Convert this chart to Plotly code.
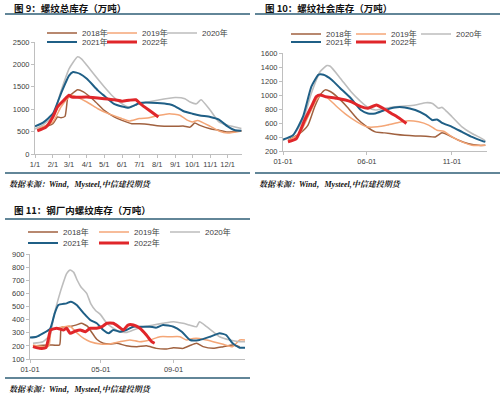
import plotly.graph_objects as go

YEAR = "2022-"

# ---------------- Figure 9: total rebar inventory ----------------
c9_dates_2018 = ["01-05","02-01","02-09","02-15","02-22","02-27","03-03","03-16","03-26","04-13","05-01","05-19","06-01","06-18","07-01","07-18","08-01","09-01","09-15","09-27","10-05","10-14","11-01","11-16","12-01","12-25"]
c9_vals_2018 = [540,675,825,810,840,1270,1310,1435,1385,1200,975,825,750,675,675,660,630,617,625,600,690,640,565,530,490,520]
c9_dates_2019 = ["01-05","02-01","02-15","03-01","03-06","04-01","04-20","05-08","06-01","06-13","07-01","07-18","08-05","08-22","09-09","09-23","10-01","10-10","11-01","11-16","12-01","12-25"]
c9_vals_2019 = [565,715,1050,1270,1310,1160,1010,900,790,735,790,810,865,900,865,750,715,750,617,515,470,515]
c9_dates_2020 = ["01-01","01-15","02-01","02-15","03-01","03-16","03-23","04-01","04-15","05-01","05-15","06-01","06-13","07-01","08-01","09-01","09-18","09-27","10-08","10-16","11-01","11-16","12-01","12-25"]
c9_vals_2020 = [560,650,850,1400,1900,2170,2120,1980,1750,1500,1300,1120,1050,1120,1200,1260,1235,1160,1120,1210,975,715,640,570]
c9_dates_2021 = ["01-01","01-15","02-01","02-15","03-01","03-08","03-20","04-01","04-20","05-01","05-18","06-01","06-12","06-25","07-01","08-01","08-22","09-01","09-15","10-01","10-14","11-01","11-16","12-01","12-14","12-25"]
c9_vals_2021 = [617,700,900,1350,1750,1830,1790,1680,1420,1300,1120,1060,1030,1100,1140,1140,1110,1065,960,900,860,825,765,617,530,520]
c9_dates_2022 = ["01-05","01-20","02-01","02-09","02-20","03-01","03-06","04-01","05-01","05-19","06-01","06-13","06-25","07-03","07-18","08-03"]
c9_vals_2022 = [515,600,825,1050,1200,1310,1270,1270,1235,1210,1180,1200,1210,1120,975,825]

# ---------------- Figure 10: social rebar inventory ----------------
c10_dates_2018 = ["01-10","01-31","02-15","02-27","03-09","03-18","03-27","04-08","04-26","05-14","06-01","06-16","07-03","07-21","08-08","08-27","09-15","10-02","10-14","10-26","11-13","12-01","12-19","12-31"]
c10_vals_2018 = [353,450,570,833,1000,1073,1050,977,833,665,545,473,459,440,425,416,411,401,459,425,353,305,281,281]
c10_dates_2019 = ["01-10","01-31","02-15","03-02","03-11","03-23","04-08","04-26","05-14","06-01","06-20","07-08","07-26","08-14","09-02","09-20","10-05","10-17","11-01","11-19","12-07","12-31"]
c10_vals_2019 = [344,450,690,929,1000,953,833,713,617,545,545,570,603,632,617,570,497,483,401,330,281,281]
c10_dates_2020 = ["01-01","01-19","02-06","02-21","03-09","03-21","03-27","04-14","05-03","05-21","06-01","06-16","07-03","07-21","08-08","08-27","09-15","09-27","10-08","10-14","10-20","11-01","11-19","12-07","12-25","12-31"]
c10_vals_2020 = [353,425,640,1025,1335,1420,1410,1240,1050,905,833,785,810,833,843,857,890,880,810,823,785,690,545,450,377,345]
c10_dates_2021 = ["01-01","01-19","02-06","02-21","03-06","03-15","03-30","04-14","05-03","05-21","06-03","06-16","07-03","07-21","08-08","08-27","09-15","09-27","10-05","10-14","11-01","11-19","12-07","12-25","12-31"]
c10_vals_2021 = [363,425,690,1120,1290,1290,1215,1097,953,785,737,737,785,823,823,785,713,641,651,603,545,473,401,345,330]
c10_dates_2022 = ["01-10","01-25","02-09","02-21","03-02","03-09","03-18","04-08","05-03","05-21","06-03","06-18","06-30","07-15","07-30","08-11"]
c10_vals_2022 = [330,377,641,833,977,1000,977,953,905,833,810,857,810,737,665,593]

# ---------------- Figure 11: in-plant rebar inventory ----------------
c11_dates_2018 = ["01-06","01-23","02-04","02-20","02-23","03-04","03-12","03-21","03-29","04-08","04-16","04-24","05-05","05-16","05-28","06-13","07-01","07-17","08-03","08-20","09-01","09-17","09-28","10-10","10-21","11-07","11-24","12-10","12-22"]
c11_vals_2018 = [200,205,207,207,340,346,350,360,372,350,300,250,220,214,220,201,194,201,181,176,186,181,201,220,194,181,194,207,194]
c11_dates_2019 = ["01-06","01-23","02-02","02-06","02-15","02-27","03-10","03-21","04-02","04-13","04-30","05-16","06-02","06-19","07-06","07-23","08-09","08-26","09-12","09-23","10-04","10-15","10-27","11-07","11-24","12-10","12-22","12-31"]
c11_vals_2019 = [207,194,200,320,334,345,350,300,257,232,215,215,232,245,232,245,270,270,270,245,257,257,245,232,212,194,245,245]
c11_dates_2020 = ["01-06","01-23","02-04","02-10","02-18","02-27","03-04","03-10","03-16","03-22","03-28","04-07","04-14","04-22","04-30","05-11","05-22","06-02","06-13","06-25","07-12","07-29","08-14","09-01","09-17","09-28","10-10","10-15","10-27","11-07","11-18","12-05","12-22","12-31"]
c11_vals_2020 = [220,232,283,420,560,690,750,778,760,700,651,600,520,470,440,372,334,308,303,321,346,359,372,384,372,359,346,384,346,308,270,245,232,232]
c11_dates_2021 = ["01-01","01-12","01-23","02-04","02-12","02-18","03-04","03-11","03-21","04-02","04-13","04-24","05-05","05-14","05-22","06-02","06-13","06-25","07-06","07-23","08-03","08-14","09-01","09-15","09-29","10-15","11-02","11-18","11-29","12-10","12-22","12-31"]
c11_vals_2021 = [263,270,296,330,450,511,524,537,511,448,397,372,321,296,321,308,321,346,346,346,339,359,346,308,245,245,270,296,283,220,186,186]
c11_dates_2022 = ["01-06","01-17","01-28","02-01","02-05","02-15","02-27","03-04","03-10","03-19","03-27","04-05","04-13","04-24","05-03","05-11","05-22","05-31","06-08","06-16","06-25","07-06","07-17","07-26","07-31"]
c11_vals_2022 = [194,181,186,250,321,334,321,334,296,313,321,308,334,334,346,372,372,346,321,359,359,334,283,232,220]

series_names = ["2018年", "2019年", "2020年", "2021年", "2022年"]
series_colors = ["#A0613F", "#F4A677", "#BDBDBD", "#1F5F86", "#E0262A"]
series_widths = [1.5, 1.5, 1.6, 2.0, 3.0]

titles = ["图 9：螺纹总库存（万吨）", "图 10：螺纹社会库存（万吨）", "图 11：钢厂内螺纹库存（万吨）"]
source_text = "数据来源：Wind，Mysteel,中信建投期货"

charts = [
    ([c9_dates_2018, c9_dates_2019, c9_dates_2020, c9_dates_2021, c9_dates_2022],
     [c9_vals_2018, c9_vals_2019, c9_vals_2020, c9_vals_2021, c9_vals_2022]),
    ([c10_dates_2018, c10_dates_2019, c10_dates_2020, c10_dates_2021, c10_dates_2022],
     [c10_vals_2018, c10_vals_2019, c10_vals_2020, c10_vals_2021, c10_vals_2022]),
    ([c11_dates_2018, c11_dates_2019, c11_dates_2020, c11_dates_2021, c11_dates_2022],
     [c11_vals_2018, c11_vals_2019, c11_vals_2020, c11_vals_2021, c11_vals_2022]),
]

W, H = 500, 396
def px(x):
    return x / W
def py(y):
    return 1 - y / H

fig = go.Figure()

# legend ids per chart: (row1, row2) and entry widths
legend_ids = [("legend", "legend2"), ("legend3", "legend4"), ("legend5", "legend6")]
entry_widths = [15, 20, 26]
axis_suffix = ["", "2", "3"]

for ci, (dates_list, vals_list) in enumerate(charts):
    for si in range(5):
        last_in_row = si in (2, 4)
        fig.add_trace(go.Scatter(
            x=[YEAR + d for d in dates_list[si]],
            y=vals_list[si],
            mode="lines",
            name=series_names[si],
            line=dict(color=series_colors[si], width=series_widths[si], shape="spline", smoothing=0.5),
            xaxis="x" + axis_suffix[ci],
            yaxis="y" + axis_suffix[ci],
            legend=legend_ids[ci][0] if si < 3 else legend_ids[ci][1],
            legendwidth=34 if last_in_row else entry_widths[ci],
            showlegend=True,
            hoverinfo="skip",
        ))

tick_font = dict(family="Liberation Sans, Arial, sans-serif", size=7.5, color="#404040")
axis_common = dict(showgrid=False, zeroline=False, showline=True, linecolor="#BFBFBF",
                   linewidth=1, ticks="outside", ticklen=3, tickcolor="#BFBFBF",
                   tickfont=tick_font, fixedrange=True)

layout = dict(
    width=W, height=H,
    margin=dict(l=0, r=0, t=0, b=0, autoexpand=False),
    paper_bgcolor="white", plot_bgcolor="white",
    font=dict(family="Liberation Sans, Noto Sans CJK SC, sans-serif", size=8, color="#404040"),
    # Figure 9
    xaxis=dict(domain=[px(35), px(242)], anchor="y", type="date",
               range=["2022-01-01", "2022-12-26"], dtick="M1", tick0="2022-01-01",
               tickformat="%-m/%-d", **axis_common),
    yaxis=dict(domain=[py(154), py(42)], anchor="x", range=[0, 2500], dtick=500, **axis_common),
    # Figure 10
    xaxis2=dict(domain=[px(283), px(487)], anchor="y2", type="date",
                range=["2022-01-01", "2023-01-03"], dtick="M5", tick0="2022-01-01",
                tickformat="%m-%d", **axis_common),
    yaxis2=dict(domain=[py(151), py(53)], anchor="x2", range=[200, 1600], dtick=200, **axis_common),
    # Figure 11
    xaxis3=dict(domain=[px(30), px(245)], anchor="y3", type="date",
                range=["2022-01-01", "2022-12-31"], dtick="M4", tick0="2022-01-01",
                tickformat="%m-%d", **axis_common),
    yaxis3=dict(domain=[py(359), py(254)], anchor="x3", range=[100, 900], dtick=100, **axis_common),
)

legend_font = dict(family="Liberation Sans, Noto Sans CJK SC, sans-serif", size=8, color="#404040")
def make_legend(x, y, ew):
    return dict(orientation="h", x=x, y=y, xanchor="left", yanchor="middle",
                xref="paper", yref="paper", bgcolor="rgba(0,0,0,0)", borderwidth=0,
                font=legend_font, entrywidth=ew, entrywidthmode="pixels",
                itemwidth=30, tracegroupgap=0, itemclick=False, itemdoubleclick=False)

layout["legend"] = make_legend(px(42), py(33), entry_widths[0])
layout["legend2"] = make_legend(px(42), py(42), entry_widths[0])
layout["legend3"] = make_legend(px(286), py(34), entry_widths[1])
layout["legend4"] = make_legend(px(286), py(42), entry_widths[1])
layout["legend5"] = make_legend(px(23), py(232), entry_widths[2])
layout["legend6"] = make_legend(px(23), py(243), entry_widths[2])

fig.update_layout(**layout)

# Titles, rules and source notes
title_font = dict(family="Noto Sans CJK SC, sans-serif", size=9.5, color="#111111", weight="bold")
source_font = dict(family="Liberation Serif, Noto Serif CJK SC, Noto Sans CJK SC, serif", size=8,
                   color="#111111", weight="bold", style="italic")
rule_color = "#2E5E76"

panels = [
    # (title x, title y, rule x0, rule x1, top rule y, bottom rule y, source y)
    (12, 8, 5, 250, 14, 173, 184),
    (263, 8, 255, 500, 14, 173, 184),
    (12, 210, 5, 250, 219, 378, 389),
]
for (tx, ty, rx0, rx1, ry_top, ry_bot, sy), title in zip(panels, titles):
    fig.add_annotation(x=px(tx), y=py(ty), xref="paper", yref="paper", text=title,
                       showarrow=False, xanchor="left", yanchor="middle", font=title_font)
    fig.add_annotation(x=px(rx0 + 2), y=py(sy), xref="paper", yref="paper", text=source_text,
                       showarrow=False, xanchor="left", yanchor="middle", font=source_font)
    for ry in (ry_top, ry_bot):
        fig.add_shape(type="line", xref="paper", yref="paper", x0=px(rx0), x1=px(rx1),
                      y0=py(ry), y1=py(ry), line=dict(color=rule_color, width=1.5))

fig.write_html("out.html", config={"displayModeBar": False},
               post_script="document.body.style.margin='0';document.body.style.overflow='hidden';")
